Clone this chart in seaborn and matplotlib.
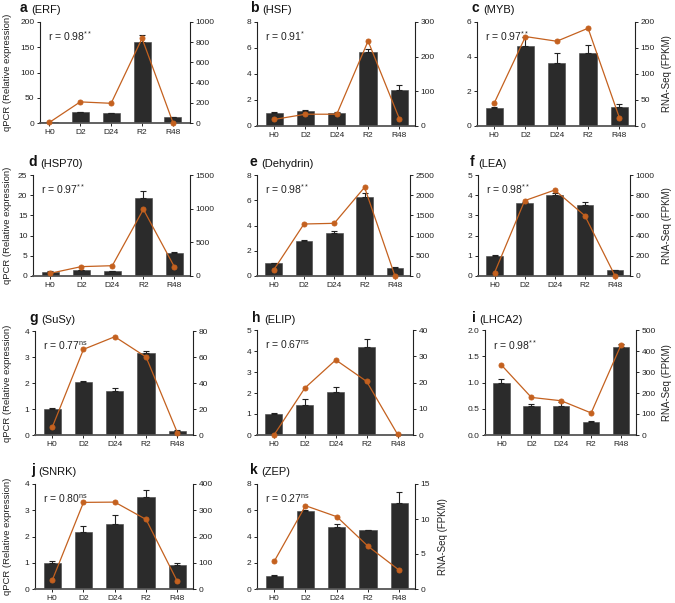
import numpy as np
import matplotlib
matplotlib.use("Agg")
import matplotlib.pyplot as plt
from matplotlib.ticker import FormatStrFormatter
import seaborn as sns

# ---------------- data ----------------
stages = ["H0", "D2", "D24", "R2", "R48"]
letters = ["a", "b", "c", "d", "e", "f", "g", "h", "i", "j", "k"]
genes = ["ERF", "HSF", "MYB", "HSP70", "Dehydrin", "LEA", "SuSy", "ELIP", "LHCA2", "SNRK", "ZEP"]
r_values = ["0.98", "0.91", "0.97", "0.97", "0.98", "0.98", "0.77", "0.67", "0.98", "0.80", "0.27"]
r_signif = ["**", "*", "**", "**", "**", "**", "ns", "ns", "**", "ns", "ns"]

qpcr_ERF = [1.3, 21.9, 19.9, 160, 11]
qpcr_HSF = [1.0, 1.15, 1.0, 5.66, 2.78]
qpcr_MYB = [1.02, 4.6, 3.65, 4.23, 1.1]
qpcr_HSP70 = [1.07, 1.5, 1.2, 19.2, 5.6]
qpcr_Dehydrin = [1.0, 2.8, 3.43, 6.23, 0.6]
qpcr_LEA = [1.0, 3.6, 4.01, 3.51, 0.3]
qpcr_SuSy = [1.0, 2.03, 1.71, 3.15, 0.15]
qpcr_ELIP = [1.0, 1.41, 2.05, 4.17, 0.02]
qpcr_LHCA2 = [1.0, 0.56, 0.55, 0.25, 1.67]
qpcr_SNRK = [1.0, 2.16, 2.48, 3.5, 0.9]
qpcr_ZEP = [1.02, 5.91, 4.7, 4.47, 6.57]

err_ERF = [0.3, 0.8, 0.8, 14, 0.8]
err_HSF = [0.04, 0.05, 0.04, 0.25, 0.4]
err_MYB = [0.08, 0.55, 0.54, 0.46, 0.19]
err_HSP70 = [0.05, 0.08, 0.06, 1.9, 0.25]
err_Dehydrin = [0.03, 0.03, 0.13, 0.31, 0.11]
err_LEA = [0.03, 0.08, 0.11, 0.14, 0.02]
err_SuSy = [0.05, 0.05, 0.1, 0.09, 0.03]
err_ELIP = [0.03, 0.3, 0.22, 0.39, 0.01]
err_LHCA2 = [0.06, 0.04, 0.07, 0.01, 0.07]
err_SNRK = [0.08, 0.24, 0.33, 0.26, 0.1]
err_ZEP = [0.03, 0.1, 0.25, 0.05, 0.79]

rnaseq_ERF = [5, 209, 195, 838, 3]
rnaseq_HSF = [19, 34, 34, 245, 21]
rnaseq_MYB = [44, 172, 163, 188, 16]
rnaseq_HSP70 = [40, 139, 153, 990, 134]
rnaseq_Dehydrin = [149, 1287, 1304, 2195, 8]
rnaseq_LEA = [33, 746, 851, 597, 3]
rnaseq_SuSy = [5.9, 65.9, 75.6, 60, 1.8]
rnaseq_ELIP = [0, 17.9, 28.6, 20.4, 0.25]
rnaseq_LHCA2 = [333, 179, 163, 105, 429]
rnaseq_SNRK = [33, 330, 331, 265, 29]
rnaseq_ZEP = [3.95, 11.9, 10.33, 6.1, 2.67]

left_max = [200, 8, 6, 25, 8, 5, 4, 5, 2.0, 4, 8]
left_step = [50, 2, 2, 5, 2, 1, 1, 1, 0.5, 1, 2]
right_max = [1000, 300, 200, 1500, 2500, 1000, 80, 40, 500, 400, 15]
right_step = [200, 100, 50, 500, 500, 200, 20, 10, 100, 100, 5]

qpcr = [qpcr_ERF, qpcr_HSF, qpcr_MYB, qpcr_HSP70, qpcr_Dehydrin, qpcr_LEA,
        qpcr_SuSy, qpcr_ELIP, qpcr_LHCA2, qpcr_SNRK, qpcr_ZEP]
errs = [err_ERF, err_HSF, err_MYB, err_HSP70, err_Dehydrin, err_LEA,
        err_SuSy, err_ELIP, err_LHCA2, err_SNRK, err_ZEP]
rnaseq = [rnaseq_ERF, rnaseq_HSF, rnaseq_MYB, rnaseq_HSP70, rnaseq_Dehydrin, rnaseq_LEA,
          rnaseq_SuSy, rnaseq_ELIP, rnaseq_LHCA2, rnaseq_SNRK, rnaseq_ZEP]

# ---------------- layout (pixels: left, top, right, bottom) ----------------
W, H = 675, 603
boxes = [(40, 22, 190, 123), (257, 22, 415, 126), (477, 22, 635, 126),
         (33, 175, 190, 276), (257, 175, 410, 276), (478, 175, 630, 276),
         (35, 331, 193, 435), (257, 330, 413, 435), (485, 330, 636, 435),
         (35, 484, 193, 589), (257, 484, 415, 589)]
title_pos = [(20, 8), (250, 8), (472, 8), (28, 162), (250, 162), (470, 162),
             (29, 318), (252, 318), (472, 318), (31, 470), (250, 470)]

sns.set_theme(style="ticks")
plt.rcParams["font.family"] = ["Liberation Sans", "DejaVu Sans"]
plt.rcParams["mathtext.default"] = "regular"

BAR = "#2b2b2b"
LINE = "#c4611f"
TXT = "#222222"

fig = plt.figure(figsize=(W / 100, H / 100), dpi=100)

for i in range(11):
    l, t, r, b = boxes[i]
    ax = fig.add_axes([l / W, 1 - b / H, (r - l) / W, (b - t) / H])
    sns.barplot(x=stages, y=qpcr[i], ax=ax, color=BAR, saturation=1, width=0.55,
                errorbar=None, edgecolor="#444444", linewidth=0.4)
    xs = [p.get_x() + p.get_width() / 2 for p in ax.patches]
    tops = [p.get_height() for p in ax.patches]
    ax.errorbar(xs, tops, yerr=[np.zeros(len(errs[i])), errs[i]], fmt="none",
                ecolor="#222222", elinewidth=0.8, capsize=2.5, capthick=0.8, zorder=1)

    ax2 = ax.twinx()
    sns.pointplot(x=stages, y=rnaseq[i], ax=ax2, color=LINE, markers="o",
                  markersize=3.6, linewidth=0.9, errorbar=None)
    for ln in ax2.lines:
        ln.set_clip_on(False)
    for c in ax2.collections:
        c.set_clip_on(False)

    ax.set_ylim(0, left_max[i])
    ax.set_yticks(np.arange(0, left_max[i] + left_step[i] / 2, left_step[i]))
    ax2.set_ylim(0, right_max[i])
    ax2.set_yticks(np.arange(0, right_max[i] + right_step[i] / 2, right_step[i]))
    if left_step[i] < 1:
        ax.yaxis.set_major_formatter(FormatStrFormatter("%.1f"))
    else:
        ax.yaxis.set_major_formatter(FormatStrFormatter("%d"))
    ax2.yaxis.set_major_formatter(FormatStrFormatter("%d"))
    if i == 0:
        ax.set_xlim(-0.3, 4.55)
    else:
        ax.set_xlim(-0.55, 4.5)

    ax.set_xlabel("")
    ax.set_ylabel("")
    ax2.set_xlabel("")
    ax2.set_ylabel("")

    for s in ["top", "right"]:
        ax.spines[s].set_visible(False)
    for s in ["top", "left", "bottom"]:
        ax2.spines[s].set_visible(False)
    ax.spines["left"].set_color("#222222")
    ax.spines["left"].set_linewidth(0.8)
    ax.spines["bottom"].set_color("#555555")
    ax.spines["bottom"].set_linewidth(1.3)
    ax2.spines["right"].set_color("#222222")
    ax2.spines["right"].set_linewidth(0.8)

    ax.tick_params(axis="y", direction="out", length=2.5, width=0.7, pad=1.5,
                   labelsize=6, colors=TXT)
    ax.tick_params(axis="x", direction="out", length=2, width=0.7, pad=2,
                   labelsize=6, colors=TXT)
    ax2.tick_params(axis="y", direction="out", length=2.5, width=0.7, pad=1.5,
                    labelsize=6, colors=TXT)

    # r text
    ax.text(0.05, 0.86, "r = " + r_values[i] + "$^{" + r_signif[i] + "}$",
            transform=ax.transAxes, fontsize=7.5, va="center", ha="left", color=TXT)

    # panel title
    tx, ty = title_pos[i]
    tl = fig.text(tx / W, 1 - ty / H, letters[i], fontsize=10, fontweight="bold",
                  va="center", ha="left", color="#111111")
    ax.annotate("(" + genes[i] + ")", xy=(1, 0), xycoords=tl, xytext=(2.5, 0),
                textcoords="offset points", fontsize=8, va="bottom", ha="left",
                color="#111111")

    cy = 1 - (t + b) / 2 / H
    if i in (0, 3, 6, 9):
        fig.text(8 / W, cy, "qPCR (Relative expression)", rotation=90,
                 fontsize=6.8, va="center", ha="center", color=TXT)
    if i in (2, 5, 8):
        fig.text(667 / W, cy, "RNA-Seq (FPKM)", rotation=90,
                 fontsize=7, va="center", ha="center", color=TXT)
    if i == 10:
        fig.text(443 / W, cy, "RNA-Seq (FPKM)", rotation=90,
                 fontsize=7, va="center", ha="center", color=TXT)

fig.savefig("out.png", dpi=100)
